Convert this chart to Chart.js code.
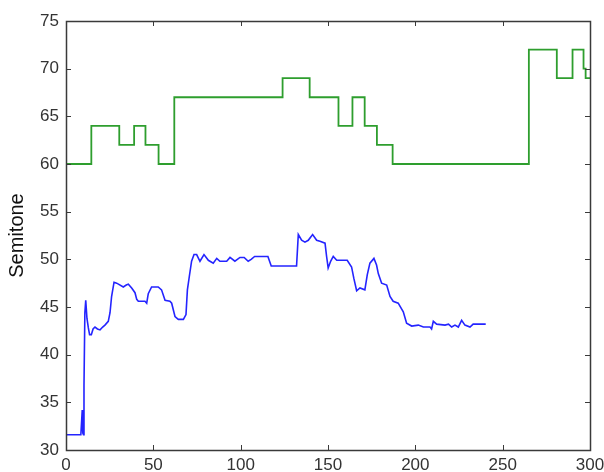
<!DOCTYPE html>
<html>
<head>
<meta charset="utf-8">
<script src="https://cdn.jsdelivr.net/npm/chart.js@4/dist/chart.umd.min.js"></script>
<style>
  html, body { margin: 0; padding: 0; background: #fff; }
  #wrap { width: 604px; height: 472px; }
</style>
</head>
<body>
<div id="wrap"><canvas id="pitch"></canvas></div>
<script>
// upper line: step values (x where each level starts, level)
const greenX = [0, 14.5, 30.5, 39, 45.5, 53, 62, 124, 139.5, 156, 164, 171, 178, 187, 265, 281, 290, 296.3, 297.5, 300];
const greenY = [60, 64, 62, 64, 62, 60, 67, 69, 67, 64, 67, 64, 62, 60, 72, 69, 72, 70, 69, 69];

// lower line: traced pitch contour
const blueX = [0, 8.5, 9.0, 9.3, 9.6, 10.0, 10.3, 10.8, 11.3, 12.0, 12.8, 13.5, 14.5, 15.5, 16.6, 18.0, 19.5, 21.0, 22.3, 24.2,
  25.2, 26.1, 27.5, 29.0, 30.0, 32.8, 34.5, 35.7, 37.6, 39.5, 40.5, 41.4, 43.0, 45.2, 46.2, 47.1, 49.0, 52.8, 54.7, 56.7,
  59.5, 60.5, 62.4, 64.3, 67.2, 68.7, 69.5, 70.6, 71.9, 73.3, 74.8, 76.7, 79.0, 81.5, 84.3, 86.3, 88.1, 92.0, 93.9, 96.7,
  99.6, 102.0, 104.3, 106.0, 108.0, 115.6, 117.5, 132.0, 133.0, 134.9, 136.8, 138.7, 141.2, 143.5, 145.4, 148.3, 149.2, 150.1, 151.5, 153.0,
  155.0, 161.0, 163.5, 164.8, 166.4, 168.3, 171.1, 172.5, 174.0, 176.3, 177.8, 178.8, 180.7, 183.6, 185.5, 187.3, 190.2, 193.1, 195.0, 197.9,
  201.7, 204.6, 208.4, 209.3, 210.3, 212.2, 217.0, 219.0, 220.8, 222.7, 224.6, 226.5, 228.4, 231.3, 233.1, 240.3];
const blueY = [31.6, 31.6, 33.2, 34.2, 31.8, 31.6, 36.8, 44.4, 45.7, 43.8, 42.8, 42.1, 42.1, 42.7, 42.9, 42.7, 42.6, 42.9, 43.1, 43.5,
  44.4, 46.1, 47.6, 47.5, 47.4, 47.1, 47.3, 47.4, 47.0, 46.5, 45.8, 45.6, 45.6, 45.6, 45.4, 46.4, 47.1, 47.1, 46.8, 45.7,
  45.6, 45.4, 44.0, 43.7, 43.7, 44.2, 46.8, 48.2, 49.8, 50.5, 50.5, 49.8, 50.5, 49.9, 49.6, 50.1, 49.8, 49.8, 50.2, 49.8,
  50.2, 50.2, 49.8, 50.0, 50.3, 50.3, 49.3, 49.3, 52.6, 52.0, 51.8, 52.0, 52.6, 52.0, 51.9, 51.7, 50.3, 49.1, 49.8, 50.3,
  49.9, 49.9, 49.2, 48.0, 46.7, 47.0, 46.8, 48.4, 49.6, 50.1, 49.4, 48.5, 47.5, 47.3, 46.1, 45.6, 45.4, 44.5, 43.3, 43.0,
  43.1, 42.9, 42.9, 42.7, 43.5, 43.2, 43.1, 43.2, 42.9, 43.1, 42.9, 43.6, 43.1, 42.9, 43.2, 43.2];

const xTicks = [0, 50, 100, 150, 200, 250, 300];
const yTicks = [30, 35, 40, 45, 50, 55, 60, 65, 70, 75];

const AXIS = '#3a3a3a';
const FONT = 'Liberation Sans, Arial, sans-serif';

// box frame + inward ticks on all four sides (matlab look)
const frameTicks = {
  id: 'frameTicks',
  afterDraw(chart) {
    const { ctx, chartArea: a, scales } = chart;
    const len = 5;
    ctx.save();
    ctx.strokeStyle = AXIS;
    ctx.lineWidth = 1;
    ctx.beginPath();
    xTicks.forEach(v => {
      const px = Math.round(scales.x.getPixelForValue(v)) + 0.5;
      ctx.moveTo(px, a.bottom); ctx.lineTo(px, a.bottom - len);
      ctx.moveTo(px, a.top); ctx.lineTo(px, a.top + len);
    });
    yTicks.forEach(v => {
      const py = Math.round(scales.y.getPixelForValue(v)) + 0.5;
      ctx.moveTo(a.left, py); ctx.lineTo(a.left + len, py);
      ctx.moveTo(a.right, py); ctx.lineTo(a.right - len, py);
    });
    ctx.stroke();
    ctx.lineWidth = 1.5;
    ctx.strokeRect(Math.round(a.left) + 0.5, Math.round(a.top) + 0.5,
      Math.round(a.right - a.left), Math.round(a.bottom - a.top));
    ctx.restore();
  }
};

const green = greenX.map((x, i) => ({ x, y: greenY[i] }));
const blue = blueX.map((x, i) => ({ x, y: blueY[i] }));

new Chart(document.getElementById('pitch'), {
  type: 'line',
  data: {
    datasets: [
      { data: green, borderColor: '#2e9e2e', borderWidth: 1.8, pointRadius: 0, stepped: true },
      { data: blue, borderColor: '#2424ff', borderWidth: 1.6, pointRadius: 0, tension: 0 }
    ]
  },
  options: {
    responsive: true,
    maintainAspectRatio: false,
    animation: false,
    layout: { padding: { top: 21, right: 14, left: 0, bottom: 0 } },
    plugins: { legend: { display: false }, tooltip: { enabled: false } },
    scales: {
      x: {
        type: 'linear', min: 0, max: 300,
        afterBuildTicks: s => { s.ticks = xTicks.map(v => ({ value: v })); },
        // let the "300" label run off the edge like the original
        afterFit: s => { s.height = 22; s.paddingRight = 0; s.paddingLeft = 0; },
        grid: { display: false, drawTicks: false },
        border: { display: false },
        ticks: { padding: 5, color: '#333', font: { family: FONT, size: 17 }, maxRotation: 0 }
      },
      y: {
        min: 30, max: 75,
        afterBuildTicks: s => { s.ticks = yTicks.map(v => ({ value: v })); },
        afterFit: s => { s.width = 66; },
        grid: { display: false, drawTicks: false },
        border: { display: false },
        ticks: { padding: 7, color: '#333', font: { family: FONT, size: 17 } },
        title: { display: true, text: 'Semitone', color: '#111', font: { family: FONT, size: 20 }, padding: { top: 5, bottom: 0 } }
      }
    }
  },
  plugins: [frameTicks]
});
</script>
</body>
</html>
